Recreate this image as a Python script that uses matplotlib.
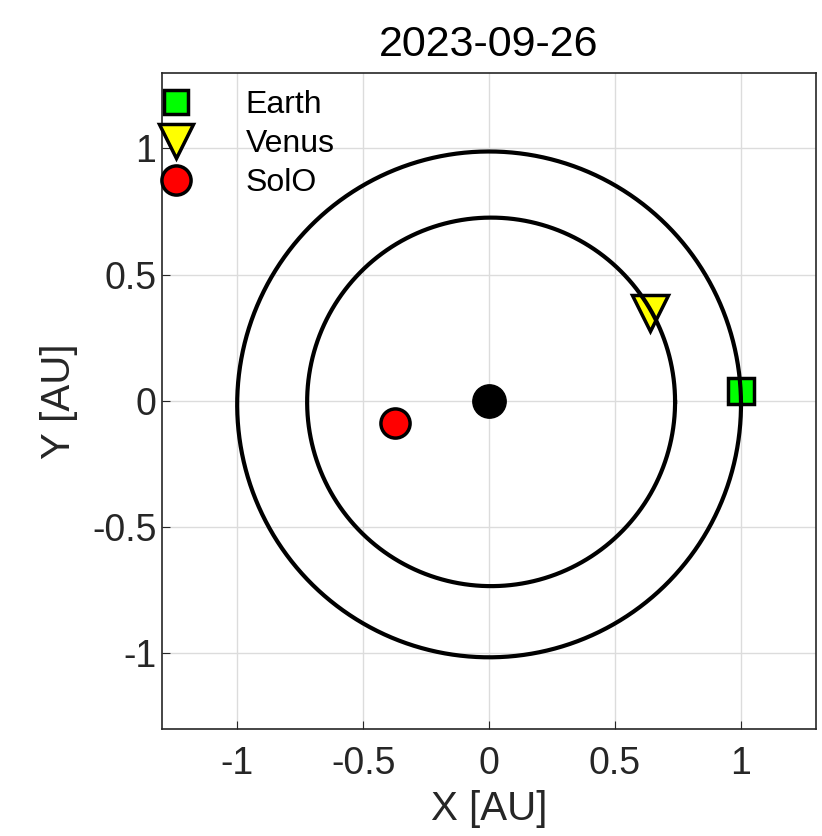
import numpy as np
import matplotlib.pyplot as plt

plt.rcParams['font.family'] = ['Liberation Sans', 'DejaVu Sans']

# positions in AU on 2023-09-26
bodies = ['Earth', 'Venus', 'SolO']
pos_x = [1.00, 0.64, -0.375]
pos_y = [0.04, 0.35, -0.088]
marker = ['s', 'v', 'o']
face = ['#00ff00', '#ffff00', '#ff0000']
msize = [19, 26, 21]
legend_msize = [17, 24, 21]

# orbits: centre x, centre y, semi-axis x, semi-axis y
orbit_cx = [0.0, 0.008]
orbit_cy = [-0.014, -0.004]
orbit_ax = [1.001, 0.731]
orbit_ay = [1.002, 0.730]

ticks = [-1, -0.5, 0, 0.5, 1]
tick_labels = ['-1', '-0.5', '0', '0.5', '1']

fig = plt.figure(figsize=(8.22, 8.36), dpi=100)
ax = fig.add_axes([0.197, 0.128, 0.796, 0.785])

handles = []
for name, x, y, m, fc, ms, lms in zip(bodies, pos_x, pos_y, marker, face, msize, legend_msize):
    ax.plot(x, y, m, ms=ms, mfc=fc, mec='k', mew=2.5, zorder=3)
    h, = ax.plot([], [], m, ms=lms, mfc=fc, mec='k', mew=2.5, label=name)
    handles.append(h)

t = np.linspace(0, 2 * np.pi, 400)
for cx, cy, rx, ry in zip(orbit_cx, orbit_cy, orbit_ax, orbit_ay):
    ax.plot(cx + rx * np.cos(t), cy + ry * np.sin(t), color='k', lw=3, zorder=4)

# the Sun
ax.plot(0, 0, 'o', ms=24, mfc='k', mec='k', zorder=5)

ax.set_xlim(-1.3, 1.3)
ax.set_ylim(-1.3, 1.3)
ax.set_xticks(ticks)
ax.set_xticklabels(tick_labels)
ax.set_yticks(ticks)
ax.set_yticklabels(tick_labels)
ax.tick_params(direction='in', labelsize=27, colors='#262626', length=6)
ax.tick_params(axis='x', pad=12)
ax.tick_params(axis='y', pad=4)
ax.grid(color='#dcdcdc', lw=1)
ax.set_axisbelow(True)
for s in ax.spines.values():
    s.set_color('#262626')
    s.set_linewidth(1.2)

ax.set_xlabel('X [AU]', fontsize=29, color='#262626', labelpad=6)
ax.set_ylabel('Y [AU]', fontsize=29, color='#262626', labelpad=10)
ax.set_title('2023-09-26', fontsize=31, color='#000000', pad=12)

ax.legend(handles=handles, loc='upper left', bbox_to_anchor=(-0.05, 1.01),
          frameon=False, fontsize=23, handlelength=1.4, handletextpad=1.5,
          labelspacing=0.28, borderpad=0.25, numpoints=1)

fig.savefig('out.png', dpi=100)
